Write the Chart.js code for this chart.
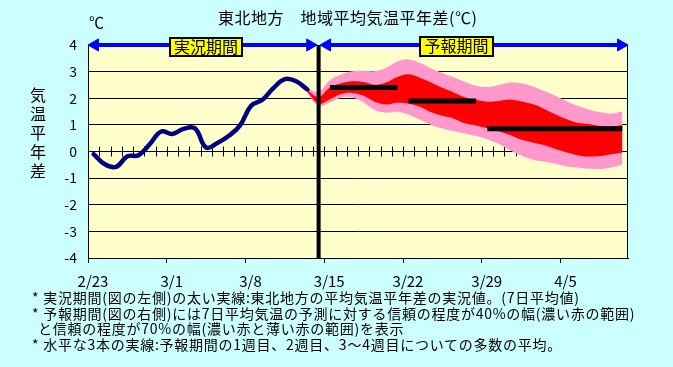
<!DOCTYPE html>
<html>
<head>
<meta charset="utf-8">
<script src="https://cdn.jsdelivr.net/npm/chart.js@4.4.0/dist/chart.umd.min.js"></script>
<style>
body { margin: 0; background: #ccffff; }
#wrap { position: relative; width: 673px; height: 367px; background: #ccffff; font-family: "Noto Sans CJK JP", sans-serif; color: #000; overflow: hidden; }
#wrap canvas { position: absolute; left: 0; top: 0; }
.t { position: absolute; white-space: nowrap; line-height: 1; }
.box { position: absolute; box-sizing: border-box; background: #ffff00; border: 2px solid #000; font-size: 16px; line-height: 15px; text-align: center; }
</style>
</head>
<body>
<div id="wrap">
  <canvas id="tempChart" width="673" height="367"></canvas>
  <div class="t" style="left:218px;top:9px;font-size:16px;letter-spacing:0.5px;">東北地方　地域平均気温平年差(℃)</div>
  <div class="t" style="left:89px;top:14px;font-size:15px;">℃</div>
  <div class="t" style="left:30px;top:85px;width:16px;font-size:16px;line-height:19px;text-align:center;white-space:normal;">気<br>温<br>平<br>年<br>差</div>
  <div class="box" style="left:169px;top:37px;width:74px;height:20px;">実況期間</div>
  <div class="box" style="left:419px;top:36px;width:75px;height:21px;">予報期間</div>
  <div class="t" style="left:32px;top:290px;font-size:14px;line-height:15.5px;letter-spacing:0.75px;">
    * 実況期間(図の左側)の太い実線:東北地方の平均気温平年差の実況値。(7日平均値)<br>
    * 予報期間(図の右側)には7日平均気温の予測に対する信頼の程度が40%の幅(濃い赤の範囲)<br>
    <span style="margin-left:6px;">と信頼の程度が70%の幅(濃い赤と薄い赤の範囲)を表示</span><br>
    * 水平な3本の実線:予報期間の1週目、2週目、3～4週目についての多数の平均。
  </div>
</div>
<script>
// x axis: one unit per day, starting 2/23
const tickLabels = ['2/23', '3/1', '3/8', '3/15', '3/22', '3/29', '4/5'];
const dayCount = 48;

// observed 7-day mean anomaly (2/23 .. 3/13)
const observed = [-0.10, -0.48, -0.58, -0.18, -0.14, 0.28, 0.75, 0.66, 0.85, 0.87,
                  0.15, 0.32, 0.58, 0.97, 1.72, 1.94, 2.39, 2.72, 2.64, 2.33];

// forecast ranges start on this day index
const forecastStart = 19;
const outerUpper = [2.38, 2.25, 2.68, 2.89, 3.01, 3.03, 3.02, 3.15, 3.38, 3.46,
                    3.32, 3.12, 2.95, 2.79, 2.62, 2.47, 2.42, 2.50, 2.59, 2.56,
                    2.45, 2.28, 2.10, 1.90, 1.72, 1.58, 1.48, 1.43, 1.50];
const innerUpper = [2.30, 2.05, 2.40, 2.56, 2.64, 2.61, 2.51, 2.59, 2.80, 2.90,
                    2.77, 2.59, 2.39, 2.22, 2.04, 1.94, 1.87, 1.90, 1.95, 1.88,
                    1.78, 1.61, 1.41, 1.22, 1.08, 1.03, 0.96, 0.94, 1.00];
const innerLower = [2.24, 1.80, 1.96, 2.16, 2.20, 2.09, 1.87, 1.77, 1.83, 1.79,
                    1.68, 1.47, 1.34, 1.24, 1.06, 0.98, 0.87, 0.76, 0.62, 0.45,
                    0.34, 0.24, 0.10, -0.03, -0.14, -0.19, -0.17, -0.10, -0.05];
const outerLower = [2.18, 1.72, 1.84, 2.02, 2.03, 1.84, 1.56, 1.46, 1.49, 1.38,
                    1.20, 1.00, 0.86, 0.76, 0.68, 0.58, 0.46, 0.28, 0.05, -0.15,
                    -0.30, -0.38, -0.46, -0.55, -0.60, -0.65, -0.66, -0.60, -0.50];

// ensemble means for week 1, week 2, weeks 3-4
const weekAverages = [2.4, 1.9, 0.85];
const weekFirstDay = [21, 28, 35];
const weekLastDay = [27, 34, 47];

// day the forecast period begins (vertical line)
const splitDay = 20;

const mid = d => d + 0.5;
const obsPoints = observed.map((v, i) => ({ x: mid(i), y: v }));
const bandPoints = arr => arr.map((v, i) => ({ x: mid(forecastStart + i), y: v }));

const arrowInset = 0.62;
function arrow(from, to) {
    return {
        data: [{ x: from, y: 4 }, { x: to, y: 4 }],
        borderColor: '#0000ff',
        borderWidth: 4,
        pointStyle: 'triangle',
        pointRadius: 7,
        pointRotation: [270, 90],
        pointBackgroundColor: '#0000ff',
        pointBorderColor: '#0000ff',
        pointBorderWidth: 1,
        clip: false,
        order: 0
    };
}

const datasets = [
    arrow(arrowInset, mid(splitDay) - 0.75),
    arrow(mid(splitDay) + 0.75, dayCount - arrowInset),
    {
        data: [{ x: mid(splitDay), y: -4 }, { x: mid(splitDay), y: 4 }],
        borderColor: '#000',
        borderWidth: 4,
        pointRadius: 0,
        order: 1
    }
];

weekAverages.forEach((v, k) => {
    datasets.push({
        data: [{ x: mid(weekFirstDay[k]), y: v }, { x: mid(weekLastDay[k]), y: v }],
        borderColor: '#000',
        borderWidth: 5,
        pointRadius: 0,
        order: 2
    });
});

datasets.push({
    data: obsPoints,
    borderColor: '#000080',
    borderWidth: 4.5,
    borderCapStyle: 'round',
    tension: 0.4,
    pointRadius: 0,
    order: 3
});

const red = datasets.length;
datasets.push({
    data: bandPoints(innerUpper),
    borderWidth: 0,
    pointRadius: 0,
    tension: 0.4,
    fill: { target: red + 1 },
    backgroundColor: '#ff0000',
    order: 4
});
datasets.push({
    data: bandPoints(innerLower),
    borderWidth: 0,
    pointRadius: 0,
    tension: 0.4,
    fill: false,
    order: 4
});
const pink = datasets.length;
datasets.push({
    data: bandPoints(outerUpper),
    borderWidth: 0,
    pointRadius: 0,
    tension: 0.4,
    fill: { target: pink + 1 },
    backgroundColor: '#ff99cc',
    order: 5
});
datasets.push({
    data: bandPoints(outerLower),
    borderWidth: 0,
    pointRadius: 0,
    tension: 0.4,
    fill: false,
    order: 5
});

// plot area colour, frame and the daily ticks on the zero line
const plotDecor = {
    id: 'plotDecor',
    beforeDraw(chart) {
        const a = chart.chartArea;
        const c = chart.ctx;
        c.save();
        c.fillStyle = '#ffffcc';
        c.fillRect(a.left, a.top, a.right - a.left, a.bottom - a.top);
        c.restore();
    },
    beforeDatasetsDraw(chart) {
        const a = chart.chartArea;
        const c = chart.ctx;
        const xs = chart.scales.x;
        const y0 = chart.scales.y.getPixelForValue(0);
        c.save();
        c.strokeStyle = '#000';
        c.lineWidth = 1;
        c.beginPath();
        for (let d = 1; d < dayCount; d++) {
            const px = Math.round(xs.getPixelForValue(d)) + 0.5;
            c.moveTo(px, y0 - 5);
            c.lineTo(px, y0 + 5);
        }
        c.stroke();
        c.strokeRect(a.left + 0.5, a.top + 0.5, a.right - a.left - 1, a.bottom - a.top);
        c.restore();
    }
};

const ctx = document.getElementById('tempChart').getContext('2d');
const tempChart = new Chart(ctx, {
    type: 'line',
    data: { datasets: datasets },
    options: {
        responsive: false,
        animation: false,
        devicePixelRatio: 1,
        layout: { padding: { top: 45, right: 45, left: 0, bottom: 0 } },
        scales: {
            x: {
                type: 'linear',
                min: 0,
                max: dayCount,
                afterBuildTicks: s => { s.ticks = tickLabels.map((_, k) => ({ value: k * 7 })); },
                afterFit: s => { s.height = 109; },
                ticks: {
                    callback: v => tickLabels[v / 7],
                    color: '#000',
                    font: { family: '"Noto Sans CJK JP", sans-serif', size: 15 },
                    maxRotation: 0,
                    autoSkip: false,
                    labelOffset: 5,
                    padding: 9
                },
                grid: { drawOnChartArea: false, drawTicks: true, tickLength: 5, color: '#000' },
                border: { color: '#000' }
            },
            y: {
                min: -4,
                max: 4,
                afterFit: s => { s.width = 88; },
                ticks: {
                    stepSize: 1,
                    color: '#000',
                    font: { family: '"Noto Sans CJK JP", sans-serif', size: 14 },
                    padding: 11
                },
                grid: { color: '#000', lineWidth: 1, drawTicks: false },
                border: { color: '#000' }
            }
        },
        plugins: {
            legend: { display: false },
            tooltip: { enabled: false }
        }
    },
    plugins: [plotDecor]
});
</script>
</body>
</html>
